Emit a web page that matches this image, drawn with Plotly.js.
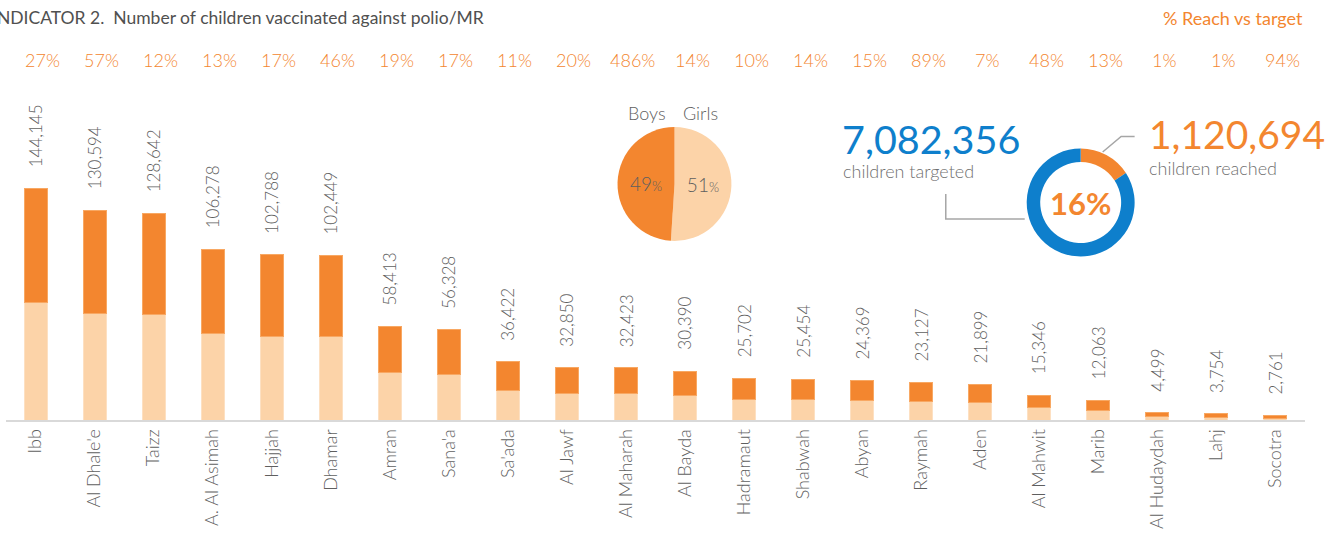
<!DOCTYPE html>
<html>
<head>
<meta charset="utf-8">
<script src="https://cdn.plot.ly/plotly-3.0.1.min.js"></script>
<style>html,body{margin:0;padding:0;background:#fff;}#chart{width:1327px;height:541px;}</style>
</head>
<body>
<div id="chart"></div>
<script>
// ---- data ----
const governorates = ["Ibb","Al Dhale'e","Taizz","A. Al Asimah","Hajjah","Dhamar","Amran","Sana'a","Sa'ada","Al Jawf","Al Maharah","Al Bayda","Hadramaut","Shabwah","Abyan","Raymah","Aden","Al Mahwit","Marib","Al Hudaydah","Lahj","Socotra"];
const totals = [144145,130594,128642,106278,102788,102449,58413,56328,36422,32850,32423,30390,25702,25454,24369,23127,21899,15346,12063,4499,3754,2761];
const girls = [73100,66080,65350,53990,52110,51740,29500,28330,18210,16420,16200,15200,12600,12730,12180,11330,10950,7520,5790,1930,1690,1240];
const boys  = [71045,64514,63292,52288,50678,50709,28913,27998,18212,16430,16223,15190,13102,12724,12189,11797,10949,7826,6273,2569,2064,1521];
const reachPct = [27,57,12,13,17,46,19,17,11,20,486,14,10,14,15,89,7,48,13,1,1,94];
const sexLabels = ["Girls","Boys"];
const sexPct = [51,49];
const childrenTargeted = 7082356;
const childrenReached = 1120694;
const reachedShare = 16;
const donutLabels = ["Reached","Not reached"];
const donutValues = [1120694, 5961662];

// ---- styling ----
const W = 1327, H = 541;
const M = {l: 5.5, r: 21.5, t: 80, b: 121};
const PW = W - M.l - M.r, PH = H - M.t - M.b;
const px = x => (x - M.l) / PW;
const py = y => (H - M.b - y) / PH;
const DARK = '#f3862f', LIGHT = '#fcd3a8', BLUE = '#0e7fcc', GREY = '#5f5f5f';
const FONT = 'Lato, "Open Sans", sans-serif';
const LW = 300;
const fmt = n => n.toLocaleString('en-US');

const traces = [
  {type:'bar', x:governorates, y:girls, name:'Girls', marker:{color:LIGHT, line:{color:'#fde0c2', width:1}}, hoverinfo:'skip'},
  {type:'bar', x:governorates, y:boys, name:'Boys', marker:{color:DARK, line:{color:'#f8a863', width:1}}, hoverinfo:'skip'},
  {type:'pie', labels:sexLabels, values:sexPct, sort:false, direction:'clockwise', rotation:0,
   marker:{colors:[LIGHT, DARK]}, textinfo:'text',
   text: sexPct.map(v => v + "<span style='font-size:13px'>%</span>"),
   textposition:'inside', insidetextorientation:'horizontal',
   textfont:{family:FONT, size:19, color:GREY, weight:LW}, showlegend:false, hoverinfo:'skip',
   domain:{x:[px(617.5), px(731.5)], y:[py(241), py(127)]}},
  {type:'pie', labels:donutLabels, values:donutValues, sort:false, direction:'clockwise', rotation:0,
   hole:0.75, marker:{colors:[DARK, BLUE]}, textinfo:'none', showlegend:false, hoverinfo:'skip',
   domain:{x:[px(1027), px(1135)], y:[py(256.5), py(148.5)]}}
];

const annotations = [];
function note(x, y, text, size, color, xa, weight) {
  annotations.push({x:px(x), y:py(y), xref:'paper', yref:'paper', text, showarrow:false,
    xanchor:xa || 'center', yanchor:'middle', font:{family:FONT, size, color, weight:weight || LW}});
}
// value labels above bars, reach row
governorates.forEach((g, i) => {
  annotations.push({x:g, y:totals[i], xref:'x', yref:'y', text:fmt(totals[i]), textangle:-90,
    showarrow:false, xanchor:'center', yanchor:'bottom', yshift:19,
    font:{family:FONT, size:17, color:GREY, weight:LW}});
  annotations.push({x:g, y:py(60), xref:'x', yref:'paper', text:reachPct[i] + '%', showarrow:false,
    xanchor:'center', yanchor:'middle', xshift:7, font:{family:FONT, size:18, color:DARK, weight:LW}});
});
// title and header
note(-11, 18, 'INDICATOR 2.&nbsp; Number of children vaccinated against polio/MR', 17.5, '#505050', 'left', 400);
note(1306, 18, '% Reach vs target', 18, DARK, 'right', 400);
// pie legend labels
note(647, 113, sexLabels[1], 18, GREY);
note(701, 113, sexLabels[0], 18, GREY);
// donut texts
note(1081, 203, '<b>' + reachedShare + '%</b>', 31, DARK, 'center', 700);
note(840, 138, fmt(childrenTargeted), 39.5, BLUE, 'left', 400);
note(841, 171, 'children targeted', 18, '#707070', 'left');
note(1147, 134, fmt(childrenReached), 39, DARK, 'left', 400);
note(1147, 168, 'children reached', 18, '#707070', 'left');

const shapes = [
  {type:'path', xref:'paper', yref:'paper',
   path:`M ${px(1103)} ${py(152)} L ${px(1121.5)} ${py(136.5)} L ${px(1135)} ${py(136.5)}`,
   line:{color:'#a6a6a6', width:1.5}},
  {type:'path', xref:'paper', yref:'paper',
   path:`M ${px(946)} ${py(194)} L ${px(946)} ${py(219)} L ${px(1025)} ${py(219)}`,
   line:{color:'#a6a6a6', width:1.5}}
];

const layout = {
  width:W, height:H, margin:M, barmode:'stack', bargap:0.61, showlegend:false,
  paper_bgcolor:'#fff', plot_bgcolor:'#fff',
  font:{family:FONT, color:GREY},
  xaxis:{type:'category', tickangle:-90, tickfont:{family:FONT, size:18, color:GREY, weight:LW},
    showline:true, linecolor:'#d9d9d9', linewidth:2, ticks:'', showgrid:false, zeroline:false, automargin:false},
  yaxis:{range:[0, PH * 144145 / 231.7], visible:false, showgrid:false, zeroline:false, fixedrange:true},
  annotations, shapes
};

Plotly.newPlot('chart', traces, layout, {displayModeBar:false, staticPlot:true});
</script>
</body>
</html>
